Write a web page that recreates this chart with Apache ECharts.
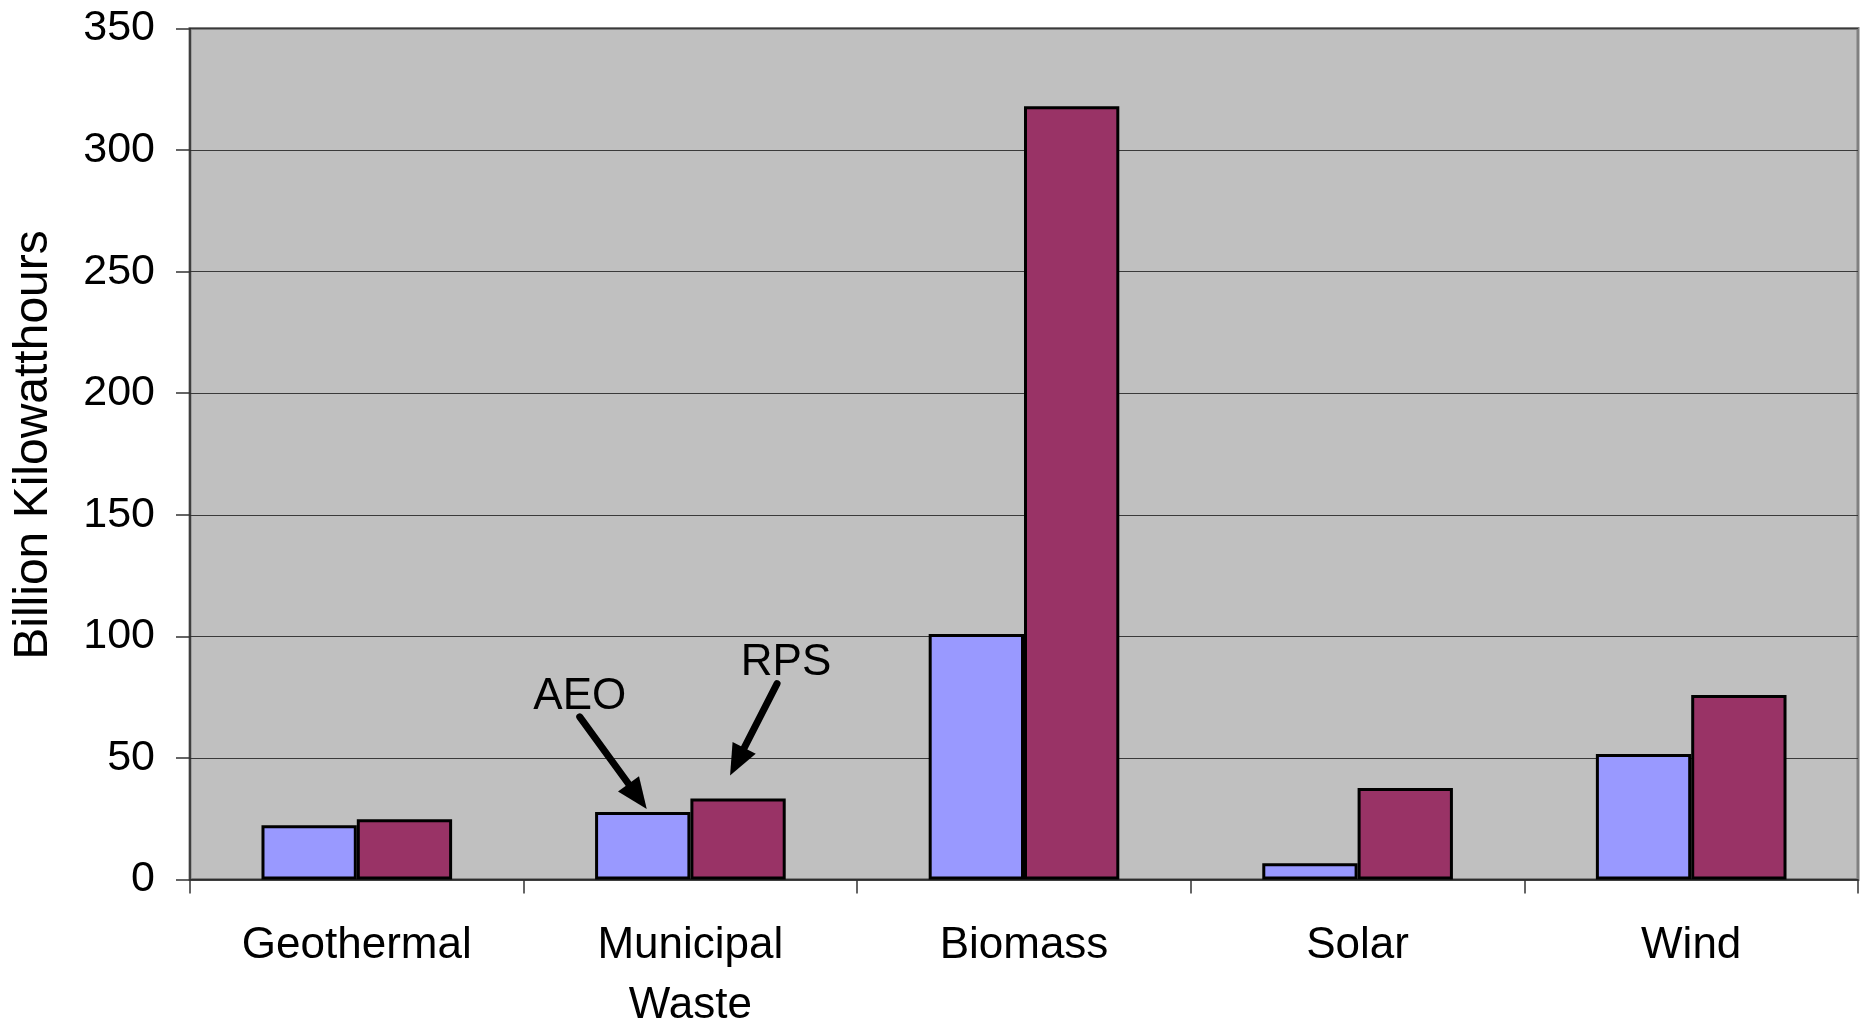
<!DOCTYPE html>
<html>
<head>
<meta charset="utf-8">
<script src="https://cdn.jsdelivr.net/npm/echarts@6/dist/echarts.min.js"></script>
<style>
  html, body { margin: 0; padding: 0; background: #ffffff; }
  #chart { width: 1869px; height: 1021px; }
</style>
</head>
<body>
<div id="chart"></div>
<script>
// Renewable generation by source, billion kWh
const categories = ['Geothermal', 'Municipal\nWaste', 'Biomass', 'Solar', 'Wind'];
const aeoValues = [22.3, 27.8, 101, 6.7, 51.6];
const rpsValues = [24.8, 33.3, 318, 37.6, 75.9];
const yMin = 0;
const yMax = 350;
const yStep = 50;
const yTitle = 'Billion Kilowatthours';

const FONT = '"Liberation Sans", Arial, Helvetica, sans-serif';

const chart = echarts.init(document.getElementById('chart'), null, { renderer: 'canvas' });

const option = {
  animation: false,
  backgroundColor: '#ffffff',
  grid: {
    left: 190, right: 11, top: 28.5, bottom: 141.5,
    outerBoundsMode: 'none',
    containLabel: false,
    show: true,
    backgroundColor: '#c0c0c0',
    borderColor: '#808080',
    borderWidth: 3
  },
  xAxis: {
    type: 'category',
    data: categories,
    boundaryGap: true,
    axisLine: { show: true, lineStyle: { color: '#2a2a2a', width: 1.5 } },
    axisTick: { show: true, length: 14, interval: 0, lineStyle: { color: '#333333', width: 1.5 } },
    axisLabel: {
      interval: 0, margin: 36, color: '#000000',
      fontFamily: FONT, fontSize: 44, lineHeight: 60
    },
    splitLine: { show: false }
  },
  yAxis: {
    type: 'value',
    min: yMin, max: yMax, interval: yStep,
    axisLine: { show: true, lineStyle: { color: '#2a2a2a', width: 1.5 } },
    axisTick: { show: true, length: 14, lineStyle: { color: '#333333', width: 1.5 } },
    axisLabel: { margin: 35, color: '#000000', fontFamily: FONT, fontSize: 43 },
    splitLine: { show: true, lineStyle: { color: '#3a3a3a', width: 1 } }
  },
  series: [
    {
      name: 'AEO', type: 'bar', data: aeoValues,
      barGap: '0%', barCategoryGap: '42.857%',
      itemStyle: { color: '#9999ff', borderColor: '#000000', borderWidth: 3 }
    },
    {
      name: 'RPS', type: 'bar', data: rpsValues,
      barGap: '0%', barCategoryGap: '42.857%',
      itemStyle: { color: '#993366', borderColor: '#000000', borderWidth: 3 }
    }
  ]
};

chart.setOption(option);

// Annotation arrows anchored to the Municipal Waste bars
function arrow(tail, tip) {
  const dx = tip[0] - tail[0], dy = tip[1] - tail[1];
  const len = Math.hypot(dx, dy);
  const ux = dx / len, uy = dy / len;
  const headLen = 31, halfW = 13;
  const bx = tip[0] - ux * headLen, by = tip[1] - uy * headLen;
  const nx = -uy, ny = ux;
  return [
    {
      type: 'line', silent: true, z: 50,
      shape: { x1: tail[0], y1: tail[1], x2: bx + ux * 3, y2: by + uy * 3 },
      style: { stroke: '#000000', lineWidth: 7, lineCap: 'round' }
    },
    {
      type: 'polygon', silent: true, z: 50,
      shape: { points: [tip, [bx + nx * halfW, by + ny * halfW], [bx - nx * halfW, by - ny * halfW]] },
      style: { fill: '#000000' }
    }
  ];
}

const idx = 1;
const p0 = chart.convertToPixel({ gridIndex: 0 }, [0, 0]);
const p1 = chart.convertToPixel({ gridIndex: 0 }, [1, 0]);
const band = p1[0] - p0[0];
const barW = band / 3.5;
const aeoTop = chart.convertToPixel({ gridIndex: 0 }, [idx, aeoValues[idx]]);
const rpsTop = chart.convertToPixel({ gridIndex: 0 }, [idx, rpsValues[idx]]);
const aeoX = aeoTop[0] - barW / 2, aeoY = aeoTop[1];
const rpsX = rpsTop[0] + barW / 2, rpsY = rpsTop[1];

const graphics = [];
graphics.push(...arrow([aeoX - 63, aeoY - 95], [aeoX + 4, aeoY - 3]));
graphics.push(...arrow([rpsX + 39, rpsY - 115], [rpsX - 8, rpsY - 23]));
graphics.push({
  type: 'text', silent: true, z: 50,
  x: aeoX - 63, y: aeoY - 115,
  style: { text: 'AEO', font: '44px ' + FONT, fill: '#000000', align: 'center', verticalAlign: 'middle' }
});
graphics.push({
  type: 'text', silent: true, z: 50,
  x: rpsX + 48, y: rpsY - 136,
  style: { text: 'RPS', font: '44px ' + FONT, fill: '#000000', align: 'center', verticalAlign: 'middle' }
});
// Vertical axis title
graphics.push({
  type: 'text', silent: true,
  x: 33.5, y: 445, rotation: Math.PI / 2,
  style: { text: yTitle, font: '48px ' + FONT, fill: '#000000', align: 'center', verticalAlign: 'middle' }
});

chart.setOption({ graphic: graphics });
</script>
</body>
</html>
